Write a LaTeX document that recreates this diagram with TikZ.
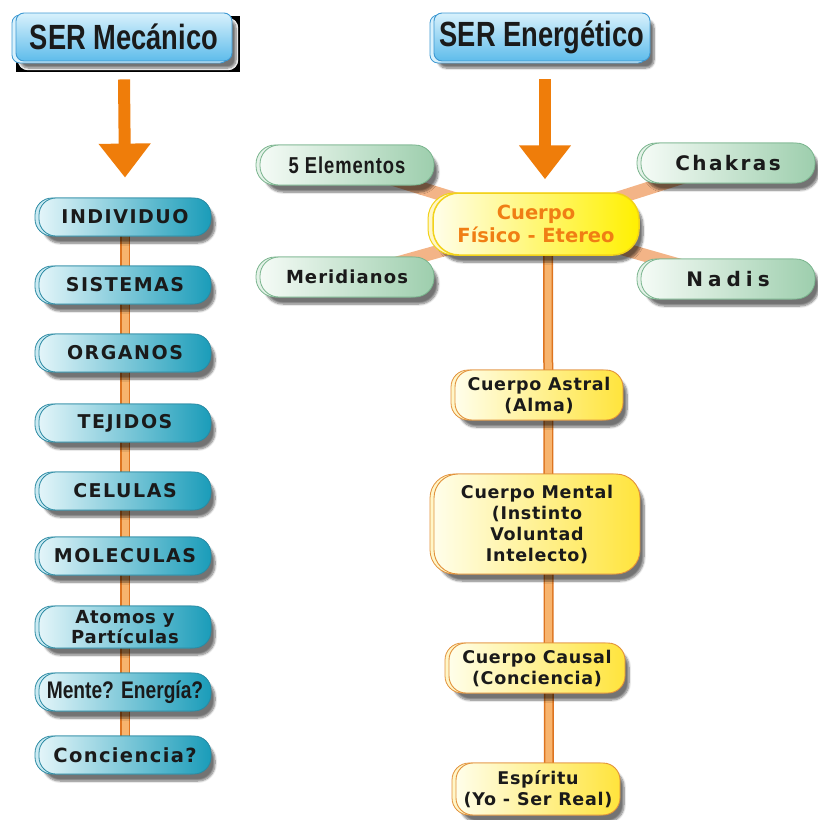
\documentclass[tikz,border=0pt]{standalone}
\usepackage{fontspec}
\setmainfont{DejaVu Sans}
\newfontfamily\titlefont{Liberation Sans}[FakeStretch=0.78]
\newfontfamily\condfontA{Liberation Sans}[FakeStretch=0.8, LetterSpace=4]
\newfontfamily\condfontB{Liberation Sans}[FakeStretch=0.8]
\newfontfamily\pillfont{DejaVu Sans}[LetterSpace=8]
\newfontfamily\pillfontB{DejaVu Sans}[LetterSpace=7]
\newfontfamily\yelfont{DejaVu Sans}[LetterSpace=4]
\newfontfamily\meridfont{DejaVu Sans}[LetterSpace=6]
\newfontfamily\chakfont{DejaVu Sans}[LetterSpace=12]
\newfontfamily\nadfont{DejaVu Sans}[LetterSpace=25]
\newfontfamily\plainfont{DejaVu Sans}
\usetikzlibrary{shadows.blur,backgrounds,arrows.meta}

\definecolor{txt}{HTML}{1A1A1A}
\definecolor{titleT}{HTML}{D8F1FC}
\definecolor{titleB}{HTML}{5EBCEB}
\definecolor{titleE}{HTML}{3D98D2}
\definecolor{tealL}{HTML}{E3F5F9}
\definecolor{tealD}{HTML}{1A9CB9}
\definecolor{tealE}{HTML}{2A8AA3}
\definecolor{tealBk}{HTML}{CBEAF2}
\definecolor{greenL}{HTML}{F5FBF6}
\definecolor{greenD}{HTML}{9DCEAD}
\definecolor{greenE}{HTML}{79B48D}
\definecolor{greenBk}{HTML}{E4F2E8}
\definecolor{yelL}{HTML}{FFFEEA}
\definecolor{yelD}{HTML}{FFE43C}
\definecolor{yelE}{HTML}{E2913A}
\definecolor{yelBk}{HTML}{FFF6C8}
\definecolor{cenD}{HTML}{FFF000}
\definecolor{cenE}{HTML}{F2D21A}
\definecolor{cenTxt}{HTML}{F07E14}
\definecolor{arrowC}{HTML}{EF7D0A}
\definecolor{chainD}{HTML}{DD7420}
\definecolor{chainL}{HTML}{F7B46E}
\definecolor{spokeC}{HTML}{F3B487}

\tikzset{
  shad/.style={blur shadow={shadow xshift=4pt, shadow yshift=-7pt, shadow blur steps=7, shadow opacity=55}},
  pillbase/.style={shad, rectangle, rounded corners=17pt, align=center, inner sep=2pt, text=txt,
    font=\pillfont\bfseries\fontsize{19}{22}\selectfont},
  tealpill/.style={pillbase, minimum width=172pt, minimum height=38pt, draw=tealE, line width=0.8pt,
    preaction={draw=tealE, fill=tealBk, line width=0.8pt, transform canvas={xshift=-4pt}},
    left color=tealL, right color=tealD},
  greenpill/.style={pillbase, minimum width=174pt, minimum height=40pt, rounded corners=19pt, draw=greenE, line width=0.8pt,
    preaction={draw=greenE, fill=greenBk, line width=0.8pt, transform canvas={xshift=-4pt}},
    left color=greenL, right color=greenD},
  yelpill/.style={pillbase, draw=yelE, line width=0.9pt,
    font=\yelfont\bfseries\fontsize{17.5}{21}\selectfont,
    preaction={draw=yelE, fill=yelBk, line width=0.8pt, transform canvas={xshift=-4pt}},
    left color=yelL, right color=yelD},
  cenpill/.style={pillbase, rounded corners=26pt, draw=cenE, line width=1.5pt, text=cenTxt,
    font=\plainfont\bfseries\fontsize{19.5}{23}\selectfont,
    preaction={draw=cenE, fill=yelBk, line width=1pt, transform canvas={xshift=-5pt}},
    left color=yelL, right color=cenD},
  titlebox/.style={shad, rectangle, rounded corners=8pt, draw=titleE, line width=0.9pt,
    minimum width=216pt, minimum height=48pt, text=txt,
    font=\titlefont\bfseries\fontsize{35}{37}\selectfont,
    preaction={draw=titleE, fill=titleT, line width=0.8pt, transform canvas={xshift=-4pt,yshift=-2pt}},
    top color=titleT, bottom color=titleB},
  chain/.style={draw=chainD, double=chainL, double distance=7pt, line width=1.5pt},
  spoke/.style={draw=spokeC, line width=13pt},
  bigarrow/.style={draw=arrowC, line width=12pt, -{Triangle[width=50pt,length=34pt]}},
}

\begin{document}
\begin{tikzpicture}[x=1pt,y=-1pt]
\begin{scope}[on background layer]
\fill[white] (0,0) rectangle (818,820);
\end{scope}
\useasboundingbox (0,0) rectangle (818,820);

% titles
\node[titlebox] (tm) at (124,37) {SER Mecánico};
\node[titlebox] (te) at (542,37) {SER Energético};

% left chain
\node[tealpill] (ind) at (125,217) {INDIVIDUO};
\node[tealpill] (sis) at (125,285) {SISTEMAS};
\node[tealpill] (org) at (125,353) {ORGANOS};
\node[tealpill] (tej) at (125,423) {TEJIDOS};
\node[tealpill] (cel) at (125,491) {CELULAS};
\node[tealpill] (mol) at (125,556) {MOLECULAS};
\node[tealpill, minimum height=42pt, font=\yelfont\bfseries\fontsize{18}{20}\selectfont] (ato) at (125,627) {Atomos y\\Partículas};
\node[tealpill, font=\condfontB\bfseries\fontsize{24}{26}\selectfont] (men) at (125,692) {Mente? Energía?};
\node[tealpill, font=\pillfontB\bfseries\fontsize{19.5}{22}\selectfont] (con) at (125,755) {Conciencia?};

% right side
\node[cenpill, minimum width=206pt, minimum height=62pt] (cfe) at (536,224) {Cuerpo\\Físico - Etereo};
\node[greenpill, font=\condfontA\bfseries\fontsize{23}{25}\selectfont] (ele) at (347,165) {5 Elementos};
\node[greenpill, font=\chakfont\bfseries\fontsize{20}{22}\selectfont] (cha) at (728,163) {Chakras};
\node[greenpill, font=\meridfont\bfseries\fontsize{18}{22}\selectfont] (mer) at (347,277) {Meridianos};
\node[greenpill, font=\nadfont\bfseries\fontsize{20}{22}\selectfont] (nad) at (728,279) {Nadis};

\node[yelpill, minimum width=168pt, minimum height=50pt] (ast) at (539,395) {Cuerpo Astral\\(Alma)};
\node[yelpill, minimum width=206pt, minimum height=100pt, rounded corners=24pt] (men2) at (537,524) {Cuerpo Mental\\(Instinto\\Voluntad\\Intelecto)};
\node[yelpill, minimum width=176pt, minimum height=50pt] (cau) at (537,668) {Cuerpo Causal\\(Conciencia)};
\node[yelpill, minimum width=164pt, minimum height=52pt] (esp) at (538,789) {Espíritu\\(Yo - Ser Real)};

% arrows
\draw[bigarrow] ([yshift=-18pt]tm.south) -- ([yshift=20pt]ind.north);
\draw[bigarrow] ([xshift=3pt,yshift=-18pt]te.south) -- ([xshift=9pt,yshift=13pt]cfe.north);

\begin{scope}[on background layer]
  \draw[chain] (ind.center) -- (con.center);
  \draw[chain] ([xshift=12pt]cfe.center) -- ([xshift=11pt]esp.center);
  \draw[spoke] (cfe.center) -- (ele.center);
  \draw[spoke] (cfe.center) -- (cha.center);
  \draw[spoke] (cfe.center) -- (mer.center);
  \draw[spoke] (cfe.center) -- (nad.center);
\end{scope}
\end{tikzpicture}
\end{document}
